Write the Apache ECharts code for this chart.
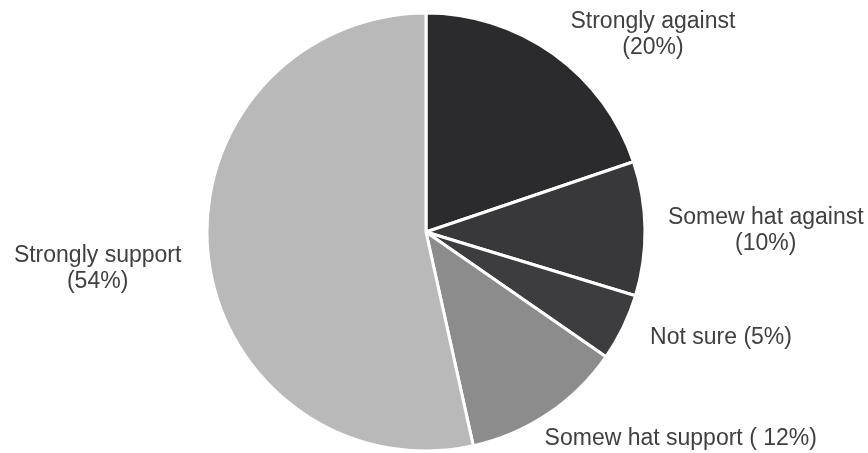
<!DOCTYPE html>
<html><head><meta charset="utf-8">
<script src="https://cdn.jsdelivr.net/npm/echarts@6/dist/echarts.min.js"></script>
<style>html,body{margin:0;padding:0;background:#fff}#c{width:868px;height:453px}</style>
</head><body><div id="c"></div>
<script>
const categories = ['Strongly against', 'Somew hat against', 'Not sure', 'Somew hat support', 'Strongly support'];
const values = [20, 10, 5, 12, 54];
const labelFormats = ['{n}\n({v}%)', '{n}\n({v}%)', '{n} ({v}%)', '{n} ( {v}%)', '{n}\n({v}%)'];
const colors = ['#2b2b2d', '#38383a', '#3d3d3f', '#8c8c8c', '#b9b9b9'];
const labelOffsets = [[6,-11],[8,2],[13,6],[-14,16],[-12,12]];

const chart = echarts.init(document.getElementById('c'), null, {renderer: 'canvas'});
chart.setOption({
  animation: false,
  series: [{
    type: 'pie',
    center: [426, 232],
    radius: 219,
    startAngle: 90,
    clockwise: true,
    avoidLabelOverlap: false,
    itemStyle: {borderColor: '#fff', borderWidth: 3},
    label: {
      show: true, position: 'outside',
      color: '#404040', fontFamily: 'Liberation Sans, Arial', fontSize: 23, lineHeight: 26,
      formatter: p => labelFormats[p.dataIndex].replace('{n}', p.name).replace('{v}', p.value)
    },
    labelLine: {show: false, length: 10, length2: 0},
    labelLayout: p => {
      const r = p.labelRect, o = labelOffsets[p.dataIndex];
      return {x: r.x + r.width / 2 + o[0], y: r.y + o[1], align: 'center', verticalAlign: 'top'};
    },
    data: categories.map((c, i) => ({name: c, value: values[i], itemStyle: {color: colors[i]}}))
  }]
});
</script></body></html>
